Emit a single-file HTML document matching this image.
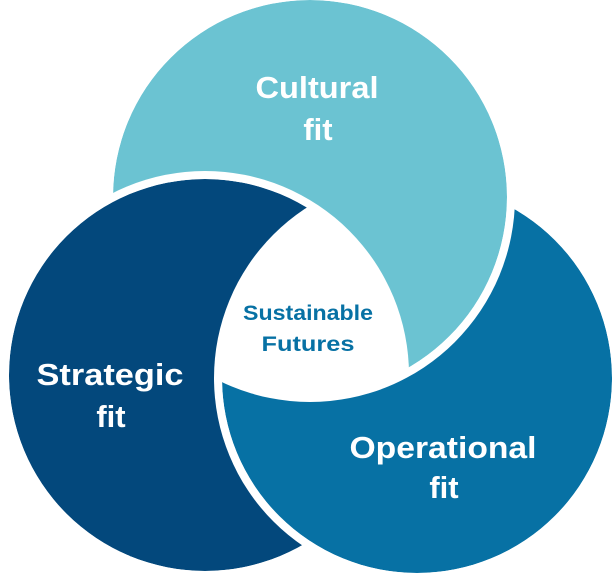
<!DOCTYPE html>
<html><head><meta charset="utf-8"><style>html,body{margin:0;padding:0;background:#fff}svg{display:block}</style></head>
<body>
<svg width="616" height="575" viewBox="0 0 616 575" xmlns="http://www.w3.org/2000/svg">
<defs>
<mask id="mT" maskUnits="userSpaceOnUse" x="0" y="0" width="616" height="575">
<rect width="616" height="575" fill="#000"/>
<circle cx="310" cy="197" r="197" fill="#fff"/>
<circle cx="205" cy="375" r="204" fill="#000"/>
</mask>
<mask id="mL" maskUnits="userSpaceOnUse" x="0" y="0" width="616" height="575">
<rect width="616" height="575" fill="#000"/>
<circle cx="205" cy="375" r="196" fill="#fff"/>
<circle cx="417" cy="378" r="203" fill="#000"/>
</mask>
<mask id="mR" maskUnits="userSpaceOnUse" x="0" y="0" width="616" height="575">
<rect width="616" height="575" fill="#000"/>
<circle cx="417" cy="378" r="195" fill="#fff"/>
<circle cx="310" cy="197" r="205" fill="#000"/>
</mask>
</defs>
<circle cx="310" cy="197" r="197" fill="#6bc3d2" mask="url(#mT)"/>
<circle cx="205" cy="375" r="196" fill="#03487c" mask="url(#mL)"/>
<circle cx="417" cy="378" r="195" fill="#0771a4" mask="url(#mR)"/>
<g font-family="Liberation Sans, sans-serif" font-weight="bold" fill="#fff" font-size="31" text-anchor="middle">
<text x="317" y="98" textLength="123" lengthAdjust="spacingAndGlyphs">Cultural</text>
<text x="318" y="140">fit</text>
<text x="110" y="385" textLength="147" lengthAdjust="spacingAndGlyphs">Strategic</text>
<text x="111" y="427">fit</text>
<text x="443" y="458" textLength="187" lengthAdjust="spacingAndGlyphs">Operational</text>
<text x="444" y="498">fit</text>
</g>
<g font-family="Liberation Sans, sans-serif" font-weight="bold" fill="#0771a4" font-size="21" text-anchor="middle">
<text x="308" y="320" textLength="130" lengthAdjust="spacingAndGlyphs">Sustainable</text>
<text x="308" y="351" textLength="93" lengthAdjust="spacingAndGlyphs">Futures</text>
</g>
</svg>
</body></html>
